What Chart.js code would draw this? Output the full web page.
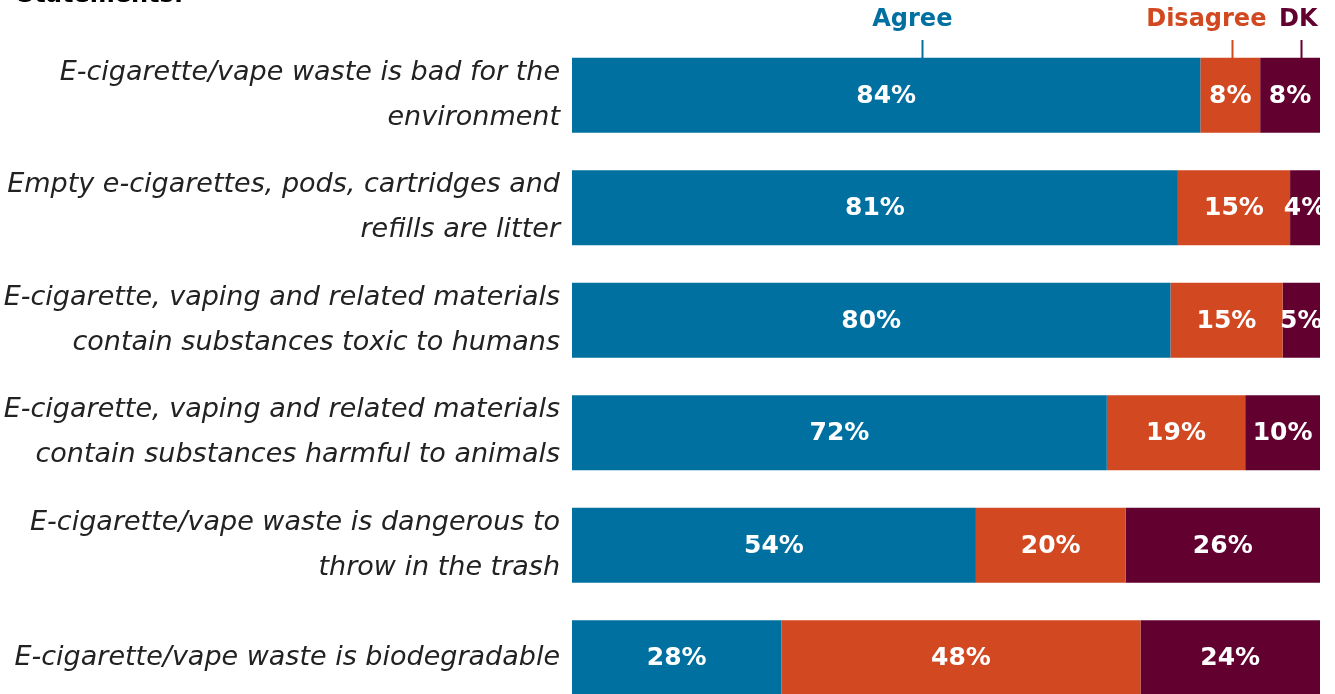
<!DOCTYPE html>
<html lang="en">
<head>
    <meta charset="UTF-8">
    <title>E-cigarette waste statements</title>
    <script src="https://cdn.jsdelivr.net/npm/chart.js"></script>
    <style>
        html, body {
            margin: 0;
            padding: 0;
            background: #ffffff;
            overflow: hidden;
        }
        canvas {
            display: block;
        }
    </style>
</head>
<body>
    <canvas id="chart" width="1335" height="714"></canvas>

    <script>
        // Data
        const statements = [
            ['E-cigarette/vape waste is bad for the', 'environment'],
            ['Empty e-cigarettes, pods, cartridges and', 'refills are litter'],
            ['E-cigarette, vaping and related materials', 'contain substances toxic to humans'],
            ['E-cigarette, vaping and related materials', 'contain substances harmful to animals'],
            ['E-cigarette/vape waste is dangerous to', 'throw in the trash'],
            'E-cigarette/vape waste is biodegradable'
        ];
        const agree = [84, 81, 80, 71.5, 54, 28];
        const disagree = [8, 15, 15, 18.5, 20, 48];
        const dontKnow = [8, 4, 5, 10, 26, 24];
        const seriesNames = ['Agree', 'Disagree', 'DK'];
        const seriesColors = ['#0070a0', '#d24820', '#620030'];

        const FONT = '"DejaVu Sans", Verdana, sans-serif';

        // white percentage labels in the middle of each segment
        const segmentLabels = {
            id: 'segmentLabels',
            afterDatasetsDraw(chart) {
                const ctx = chart.ctx;
                ctx.save();
                ctx.font = 'bold 25px ' + FONT;
                ctx.fillStyle = '#ffffff';
                ctx.textAlign = 'center';
                ctx.textBaseline = 'middle';
                chart.data.datasets.forEach((ds, i) => {
                    chart.getDatasetMeta(i).data.forEach((bar, j) => {
                        const cx = (bar.x + bar.base) / 2;
                        ctx.fillText(Math.round(ds.data[j]) + '%', cx, bar.y + 1);
                    });
                });
                ctx.restore();
            }
        };

        // series names above the first bar, with small pointer lines
        const topLegend = {
            id: 'topLegend',
            afterDraw(chart) {
                const ctx = chart.ctx;
                const xs = chart.scales.x;
                const textAt = [45.5, 84.8, 97.1];   // where each name sits (x scale %)
                const tickAt = [46.8, 88.2, 97.5];   // where each pointer line drops
                const top = chart.chartArea.top;
                ctx.save();
                ctx.font = 'bold 24px ' + FONT;
                ctx.textAlign = 'center';
                ctx.textBaseline = 'middle';
                seriesNames.forEach((name, i) => {
                    ctx.fillStyle = seriesColors[i];
                    ctx.fillText(name, xs.getPixelForValue(textAt[i]), 20);
                    const x = Math.round(xs.getPixelForValue(tickAt[i])) + 0.5;
                    ctx.strokeStyle = seriesColors[i];
                    ctx.lineWidth = 2;
                    ctx.beginPath();
                    ctx.moveTo(x, 40);
                    ctx.lineTo(x, top + 19);
                    ctx.stroke();
                });
                // heading cut off at the top edge
                ctx.fillStyle = '#000000';
                ctx.textAlign = 'left';
                ctx.textBaseline = 'alphabetic';
                ctx.fillText('Statements:', 17, 2);
                ctx.restore();
            }
        };

        const values = [agree, disagree, dontKnow];

        new Chart(document.getElementById('chart'), {
            type: 'bar',
            data: {
                labels: statements,
                datasets: seriesNames.map((name, i) => ({
                    label: name,
                    data: values[i],
                    backgroundColor: seriesColors[i],
                    borderWidth: 0,
                    barPercentage: 0.667,
                    categoryPercentage: 1
                }))
            },
            options: {
                indexAxis: 'y',
                responsive: false,
                maintainAspectRatio: false,
                animation: false,
                layout: {
                    padding: { top: 39, right: 15, bottom: 0, left: 0 }
                },
                plugins: {
                    legend: { display: false },
                    tooltip: { enabled: false }
                },
                scales: {
                    x: {
                        stacked: true,
                        min: 0,
                        max: 100,
                        display: false
                    },
                    y: {
                        stacked: true,
                        grid: { display: false, drawTicks: false },
                        border: { display: false },
                        ticks: {
                            color: '#222222',
                            padding: 12,
                            font: {
                                family: FONT,
                                style: 'oblique',
                                size: 27,
                                lineHeight: 1.67
                            }
                        },
                        afterFit(scale) {
                            scale.width = 572;
                            // two-line labels would otherwise push the plot area in
                            scale.paddingTop = 0;
                            scale.paddingBottom = 0;
                        }
                    }
                }
            },
            plugins: [segmentLabels, topLegend]
        });
    </script>
</body>
</html>
